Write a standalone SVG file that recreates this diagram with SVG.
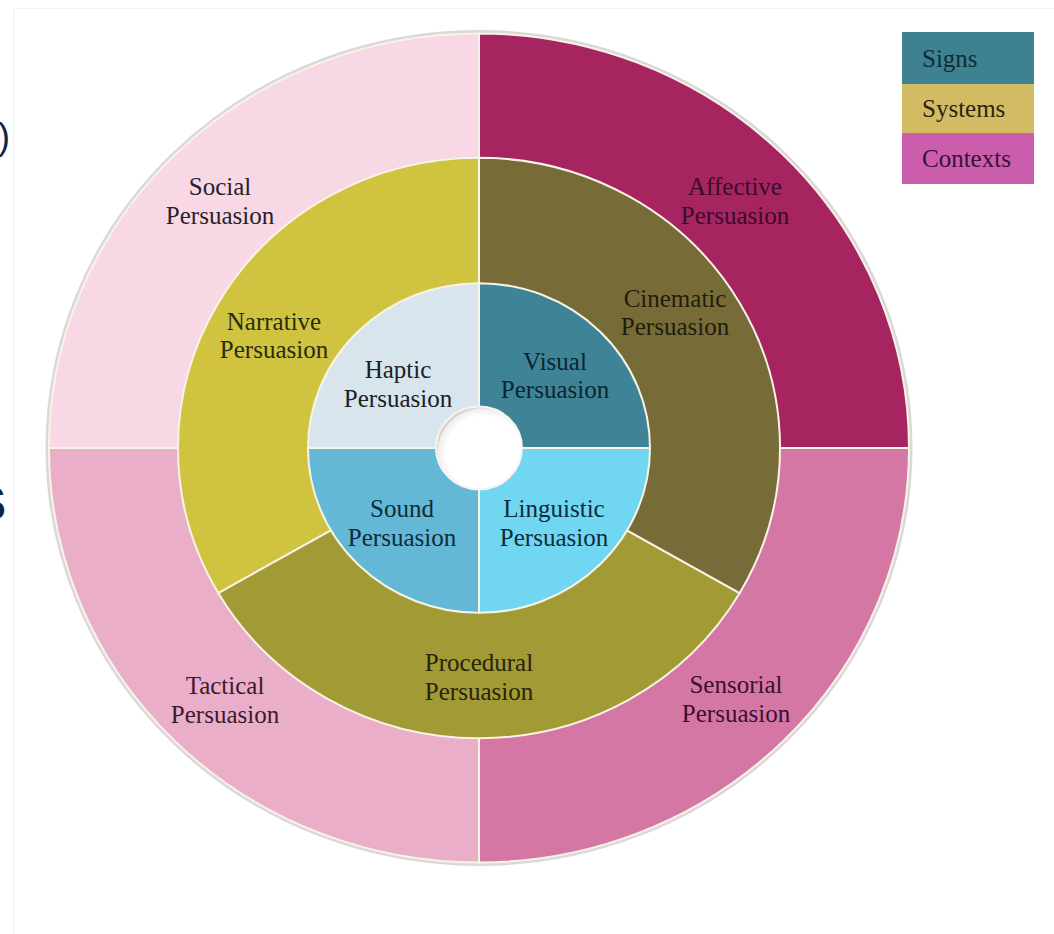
<svg xmlns="http://www.w3.org/2000/svg" width="1054" height="934" viewBox="0 0 1054 934">
<defs>
<style>
.seg{stroke:#f7f3e6;stroke-width:2;vector-effect:non-scaling-stroke}
.lbl{font-family:"Liberation Serif","Times New Roman",serif;font-size:25px;text-anchor:middle}
.leg{font-family:"Liberation Serif","Times New Roman",serif;font-size:25px}
.frag{font-family:"Liberation Sans",Arial,sans-serif;fill:#0b2545}
</style>
<radialGradient id="hole" cx="0.55" cy="0.55" r="0.55" fx="0.6" fy="0.6">
<stop offset="0.8" stop-color="#ffffff"/>
<stop offset="0.95" stop-color="#f1eeee"/>
<stop offset="1" stop-color="#cfcaca"/>
</radialGradient>
</defs>
<rect width="1054" height="934" fill="#ffffff"/>
<path d="M13.5 934 V8.5 H1054" fill="none" stroke="#f1f1f1" stroke-width="1"/>
<g id="fragments">
<text class="frag" x="-2" y="149" font-size="36">)</text>
<text class="frag" x="-26" y="520" font-size="48" font-weight="bold">S</text>
</g>
<g id="wheel" transform="translate(479 448) scale(1 0.964)">
<circle r="432" fill="none" stroke="#dcd8d8" stroke-width="3" vector-effect="non-scaling-stroke"/>
<g id="social"><path class="seg" fill="#f7d8e4" d="M0 0 L-430 0 A430 430 0 0 1 0 -430 Z"/></g>
<g id="affective"><path class="seg" fill="#a62460" d="M0 0 L0 -430 A430 430 0 0 1 430 0 Z"/></g>
<g id="sensorial"><path class="seg" fill="#d577a5" d="M0 0 L430 0 A430 430 0 0 1 0 430 Z"/></g>
<g id="tactical"><path class="seg" fill="#ebaec8" d="M0 0 L0 430 A430 430 0 0 1 -430 0 Z"/></g>
<g id="narrative"><path class="seg" fill="#cfc33f" d="M0 0 L0 -301 A301 301 0 0 0 -260.7 150.5 Z"/></g>
<g id="procedural"><path class="seg" fill="#a29a34" d="M0 0 L-260.7 150.5 A301 301 0 0 0 260.7 150.5 Z"/></g>
<g id="cinematic"><path class="seg" fill="#776c37" d="M0 0 L260.7 150.5 A301 301 0 0 0 0 -301 Z"/></g>
<g id="haptic"><path class="seg" fill="#d9e5ec" d="M0 0 L-171 0 A171 171 0 0 1 0 -171 Z"/></g>
<g id="visual"><path class="seg" fill="#3f8496" d="M0 0 L0 -171 A171 171 0 0 1 171 0 Z"/></g>
<g id="linguistic"><path class="seg" fill="#70d6f1" d="M0 0 L171 0 A171 171 0 0 1 0 171 Z"/></g>
<g id="sound"><path class="seg" fill="#62b8d5" d="M0 0 L0 171 A171 171 0 0 1 -171 0 Z"/></g>
<g id="hub"><circle r="43" fill="url(#hole)" stroke="#f7f3ee" stroke-width="2" vector-effect="non-scaling-stroke"/></g>
</g>
<g id="labels">
<text class="lbl" fill="#2a1f2a" x="220" y="195">Social<tspan x="220" y="224">Persuasion</tspan></text>
<text class="lbl" fill="#3a0b2a" x="735" y="195">Affective<tspan x="735" y="224">Persuasion</tspan></text>
<text class="lbl" fill="#2b2a0c" x="274" y="330">Narrative<tspan x="274" y="358">Persuasion</tspan></text>
<text class="lbl" fill="#1f1c0e" x="675" y="307">Cinematic<tspan x="675" y="335">Persuasion</tspan></text>
<text class="lbl" fill="#1a2028" x="398" y="378">Haptic<tspan x="398" y="407">Persuasion</tspan></text>
<text class="lbl" fill="#0b2530" x="555" y="370">Visual<tspan x="555" y="398">Persuasion</tspan></text>
<text class="lbl" fill="#0d2c3a" x="402" y="517">Sound<tspan x="402" y="546">Persuasion</tspan></text>
<text class="lbl" fill="#0c2c3a" x="554" y="517">Linguistic<tspan x="554" y="546">Persuasion</tspan></text>
<text class="lbl" fill="#26240a" x="479" y="671">Procedural<tspan x="479" y="700">Persuasion</tspan></text>
<text class="lbl" fill="#3a1a2c" x="225" y="694">Tactical<tspan x="225" y="723">Persuasion</tspan></text>
<text class="lbl" fill="#3a1030" x="736" y="693">Sensorial<tspan x="736" y="722">Persuasion</tspan></text>
</g>
<g id="legend">
<g id="legend-signs"><rect x="902" y="32" width="132" height="52" fill="#3e8292"/><text class="leg" x="922" y="67" fill="#0f2c35">Signs</text></g>
<g id="legend-systems"><rect x="902" y="84" width="132" height="49" fill="#d2bb62"/><text class="leg" x="922" y="117" fill="#2a2410">Systems</text></g>
<g id="legend-contexts"><rect x="902" y="133" width="132" height="51" fill="#cb5eac"/><text class="leg" x="922" y="167" fill="#3a0f38">Contexts</text></g>
</g>
</svg>
